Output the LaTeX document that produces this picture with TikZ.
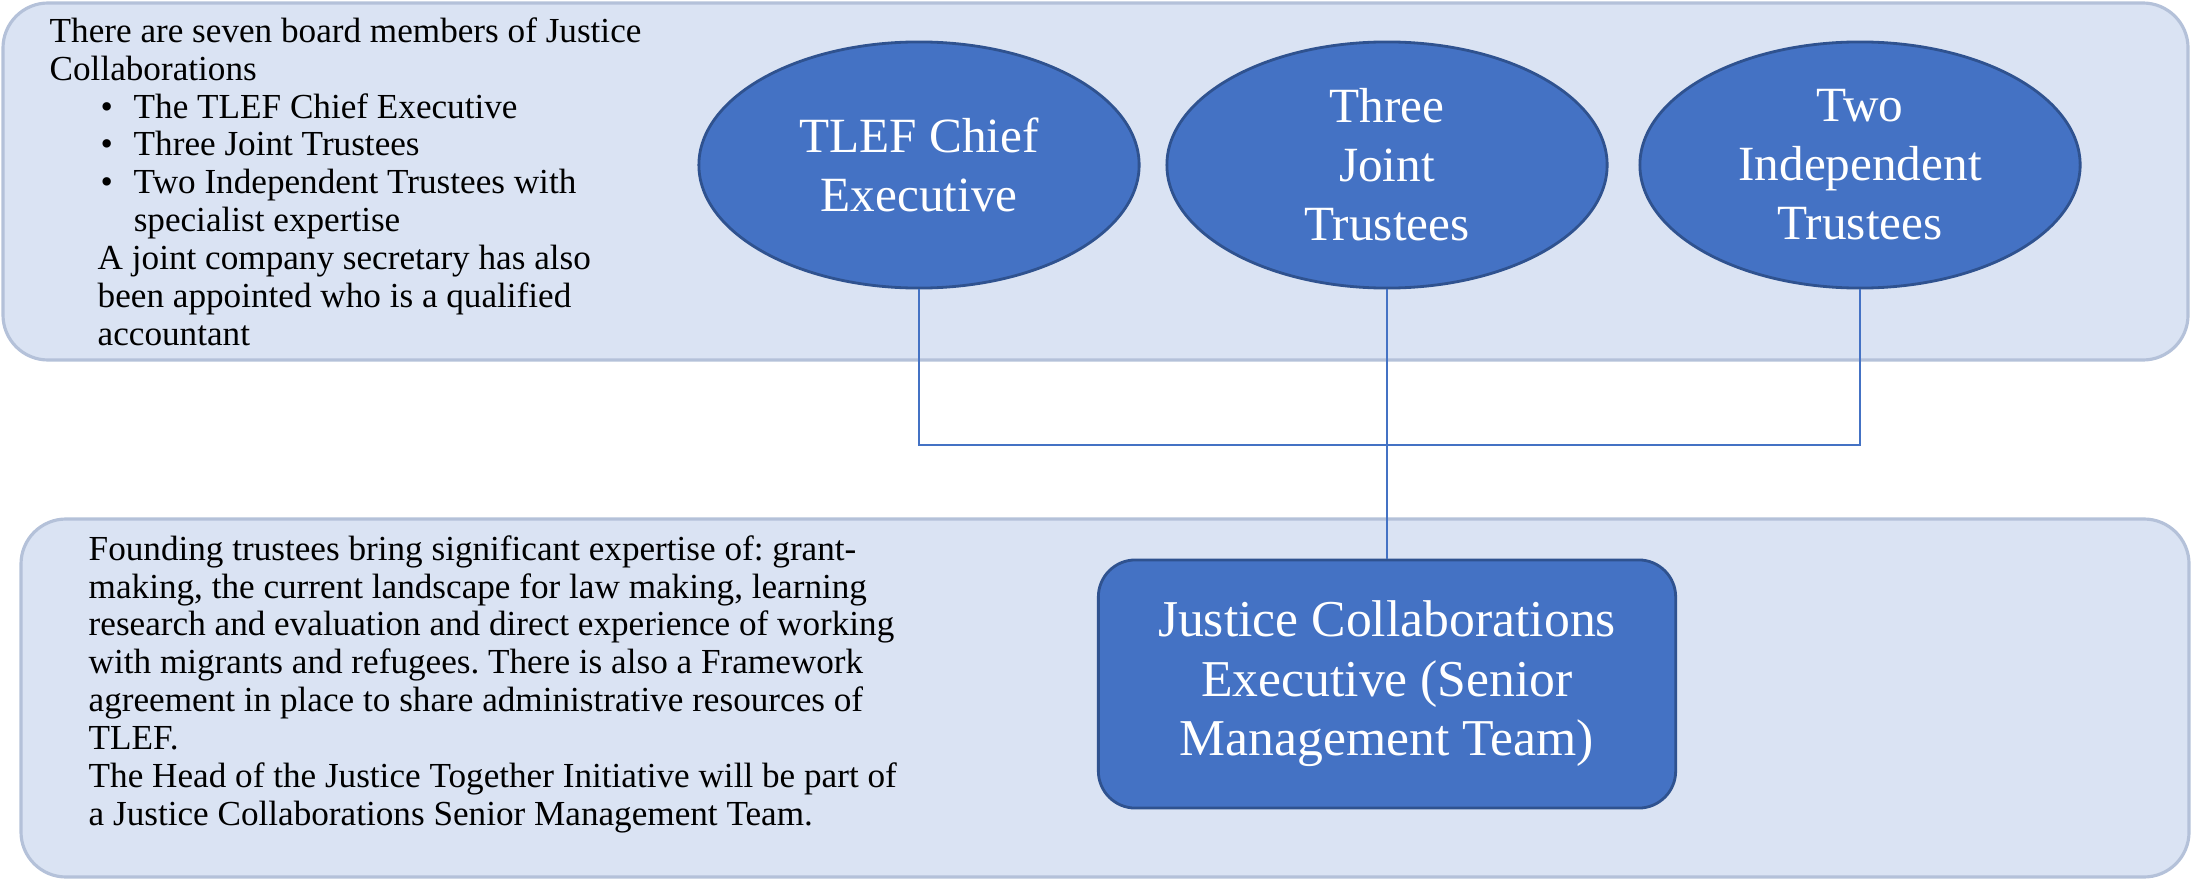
\documentclass[tikz,border=0pt]{standalone}
\usepackage{fontspec}
\setmainfont{Liberation Serif}
\frenchspacing
\usetikzlibrary{shapes.geometric}
\definecolor{panelfill}{HTML}{DAE3F3}
\definecolor{paneldraw}{HTML}{B4C1D9}
\definecolor{accent}{HTML}{4472C4}
\definecolor{accentdark}{HTML}{2F528F}
\begin{document}
\begin{tikzpicture}[x=0.01cm,y=-0.01cm,
    panel/.style={fill=panelfill,draw=paneldraw,line width=0.9pt,rounded corners=0.45cm},
    member/.style={ellipse,fill=accent,draw=accentdark,line width=0.8pt,minimum width=4.4cm,minimum height=2.46cm,inner sep=0pt,text=white,align=center,font=\fontsize{14}{16.8}\selectfont},
    team/.style={rectangle,rounded corners=0.37cm,fill=accent,draw=accentdark,line width=0.8pt,minimum width=5.77cm,minimum height=2.48cm,inner sep=0pt,text=white,align=center,font=\fontsize{14.7}{16.9}\selectfont},
    note/.style={anchor=base west,inner sep=0pt,align=left,font=\fontsize{10}{10.75}\selectfont},
    link/.style={draw=accent,line width=0.45pt}]
    \useasboundingbox (0,0) rectangle (2192,879);
    \draw[panel] (3,3) rectangle (2188,360);
    \draw[panel] (21,519) rectangle (2189,877);
    % board text (anchored on its last line)
    \node[note] (board) at (49,345) {There are seven board members of Justice\\
        Collaborations\\
        \hspace*{0.51cm}\makebox[0.33cm][l]{\textbullet}The TLEF Chief Executive\\
        \hspace*{0.51cm}\makebox[0.33cm][l]{\textbullet}Three Joint Trustees\\
        \hspace*{0.51cm}\makebox[0.33cm][l]{\textbullet}Two Independent Trustees with\\
        \hspace*{0.84cm}specialist expertise\\
        \hspace*{0.48cm}A joint company secretary has also\\
        \hspace*{0.48cm}been appointed who is a qualified\\
        \hspace*{0.48cm}accountant};
    \node[member] (tlef) at (919,165) {TLEF Chief\\Executive};
    \node[member] (joint) at (1387,165) {Three\\Joint\\Trustees};
    \node[member] (indep) at (1860,165) {Two\\Independent\\Trustees};
    % founding text
    \node[note] (found) at (88,825) {Founding trustees bring significant expertise of: grant-\\
        making, the current landscape for law making, learning\\
        research and evaluation and direct experience of working\\
        with migrants and refugees. There is also a Framework\\
        agreement in place to share administrative resources of\\
        TLEF.\\
        The Head of the Justice Together Initiative will be part of\\
        a Justice Collaborations Senior Management Team.};
    \node[team] (jce) at (1387,684) {Justice Collaborations\\Executive (Senior\\Management Team)};
    \coordinate (jn) at (1387,445);
    \draw[link] (tlef.south) |- (jn) -| (indep.south);
    \draw[link] (joint.south) -- (jce.north);
\end{tikzpicture}
\end{document}
